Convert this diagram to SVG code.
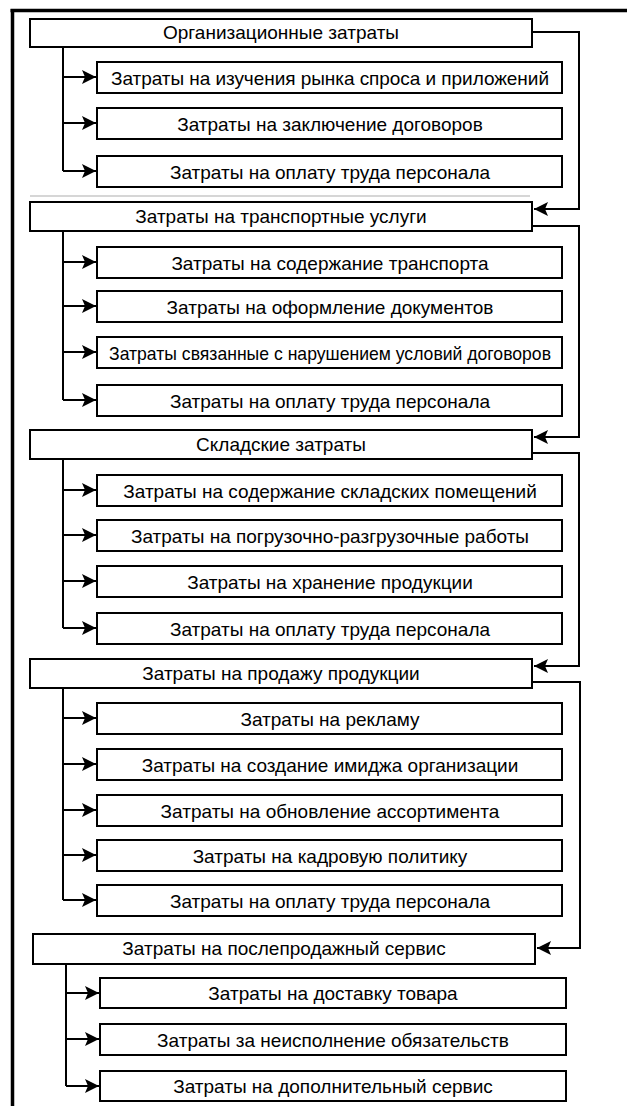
<svg xmlns="http://www.w3.org/2000/svg" width="627" height="1106" viewBox="0 0 627 1106">
<style>
.box{fill:#fff;stroke:#000;stroke-width:2}
.t{font-family:"Liberation Sans",Arial,sans-serif;font-size:19px;fill:#000;text-anchor:middle}
.ln{fill:none;stroke:#000;stroke-width:2;stroke-linejoin:miter}
</style>
<defs>
<marker id="ah" markerUnits="userSpaceOnUse" markerWidth="14" markerHeight="14" viewBox="0 0 14 14" refX="14" refY="7" orient="auto">
<path d="M0,0 L14,7 L0,14 L3,7 Z" fill="#000"/>
</marker>
</defs>
<rect width="627" height="1106" fill="#fff"/>
<g id="frame">
<line x1="10.5" y1="10.5" x2="627" y2="10.5" stroke="#000" stroke-width="3.5"/>
<line x1="12.5" y1="9" x2="12.5" y2="1106" stroke="#000" stroke-width="3.5"/>
<line x1="30" y1="196" x2="530" y2="196" stroke="#c8c8c8" stroke-width="1.5"/>
</g>
<g id="connectors">
<path class="ln" d="M532,32 H579 V209 H534" marker-end="url(#ah)"/>
<path class="ln" d="M532,226 H579 V437 H534" marker-end="url(#ah)"/>
<path class="ln" d="M532,453 H579 V666 H534" marker-end="url(#ah)"/>
<path class="ln" d="M532,682 H580 V948 H537" marker-end="url(#ah)"/>
<path class="ln" d="M63,47 V171"/>
<path class="ln" d="M63,77 H96" marker-end="url(#ah)"/>
<path class="ln" d="M63,123 H96" marker-end="url(#ah)"/>
<path class="ln" d="M63,171 H96" marker-end="url(#ah)"/>
<path class="ln" d="M63,231 V400"/>
<path class="ln" d="M63,262 H96" marker-end="url(#ah)"/>
<path class="ln" d="M63,306 H96" marker-end="url(#ah)"/>
<path class="ln" d="M63,352 H96" marker-end="url(#ah)"/>
<path class="ln" d="M63,400 H96" marker-end="url(#ah)"/>
<path class="ln" d="M63,459 V628"/>
<path class="ln" d="M63,490 H96" marker-end="url(#ah)"/>
<path class="ln" d="M63,535 H96" marker-end="url(#ah)"/>
<path class="ln" d="M63,581 H96" marker-end="url(#ah)"/>
<path class="ln" d="M63,628 H96" marker-end="url(#ah)"/>
<path class="ln" d="M63,688 V900"/>
<path class="ln" d="M63,718 H96" marker-end="url(#ah)"/>
<path class="ln" d="M63,764 H96" marker-end="url(#ah)"/>
<path class="ln" d="M63,810 H96" marker-end="url(#ah)"/>
<path class="ln" d="M63,855 H96" marker-end="url(#ah)"/>
<path class="ln" d="M63,900 H96" marker-end="url(#ah)"/>
<path class="ln" d="M66,964 V1086"/>
<path class="ln" d="M66,993 H99" marker-end="url(#ah)"/>
<path class="ln" d="M66,1039 H99" marker-end="url(#ah)"/>
<path class="ln" d="M66,1086 H99" marker-end="url(#ah)"/>
</g>
<g id="h1"><rect class="box" x="30" y="19" width="502" height="28"/><text class="t" x="281" y="39">Организационные затраты</text></g>
<g id="s1_1"><rect class="box" x="97" y="62" width="465" height="31"/><text class="t" x="330" y="85" textLength="438">Затраты на изучения рынка спроса и приложений</text></g>
<g id="s1_2"><rect class="box" x="97" y="108" width="465" height="31"/><text class="t" x="330" y="131">Затраты на заключение договоров</text></g>
<g id="s1_3"><rect class="box" x="97" y="156" width="465" height="31"/><text class="t" x="330" y="179">Затраты на оплату труда персонала</text></g>
<g id="h2"><rect class="box" x="30" y="202" width="502" height="29"/><text class="t" x="281" y="223">Затраты на транспортные услуги</text></g>
<g id="s2_1"><rect class="box" x="97" y="247" width="465" height="31"/><text class="t" x="330" y="270">Затраты на содержание транспорта</text></g>
<g id="s2_2"><rect class="box" x="97" y="291" width="465" height="31"/><text class="t" x="330" y="314">Затраты на оформление документов</text></g>
<g id="s2_3"><rect class="box" x="97" y="337" width="465" height="31"/><text class="t" x="330" y="360" textLength="442" lengthAdjust="spacingAndGlyphs">Затраты связанные с нарушением условий договоров</text></g>
<g id="s2_4"><rect class="box" x="97" y="385" width="465" height="31"/><text class="t" x="330" y="408">Затраты на оплату труда персонала</text></g>
<g id="h3"><rect class="box" x="30" y="430" width="502" height="29"/><text class="t" x="281" y="451">Складские затраты</text></g>
<g id="s3_1"><rect class="box" x="97" y="475" width="465" height="31"/><text class="t" x="330" y="498">Затраты на содержание складских помещений</text></g>
<g id="s3_2"><rect class="box" x="97" y="520" width="465" height="31"/><text class="t" x="330" y="543">Затраты на погрузочно-разгрузочные работы</text></g>
<g id="s3_3"><rect class="box" x="97" y="566" width="465" height="31"/><text class="t" x="330" y="589">Затраты на хранение продукции</text></g>
<g id="s3_4"><rect class="box" x="97" y="613" width="465" height="31"/><text class="t" x="330" y="636">Затраты на оплату труда персонала</text></g>
<g id="h4"><rect class="box" x="30" y="659" width="502" height="29"/><text class="t" x="281" y="680">Затраты на продажу продукции</text></g>
<g id="s4_1"><rect class="box" x="97" y="703" width="465" height="31"/><text class="t" x="330" y="726">Затраты на рекламу</text></g>
<g id="s4_2"><rect class="box" x="97" y="749" width="465" height="31"/><text class="t" x="330" y="772">Затраты на создание имиджа организации</text></g>
<g id="s4_3"><rect class="box" x="97" y="795" width="465" height="31"/><text class="t" x="330" y="818">Затраты на обновление ассортимента</text></g>
<g id="s4_4"><rect class="box" x="97" y="840" width="465" height="31"/><text class="t" x="330" y="863">Затраты на кадровую политику</text></g>
<g id="s4_5"><rect class="box" x="97" y="885" width="465" height="31"/><text class="t" x="330" y="908">Затраты на оплату труда персонала</text></g>
<g id="h5"><rect class="box" x="33" y="934" width="502" height="30"/><text class="t" x="284" y="955">Затраты на послепродажный сервис</text></g>
<g id="s5_1"><rect class="box" x="100" y="978" width="466" height="30"/><text class="t" x="333" y="1000">Затраты на доставку товара</text></g>
<g id="s5_2"><rect class="box" x="100" y="1024" width="466" height="31"/><text class="t" x="333" y="1047">Затраты за неисполнение обязательств</text></g>
<g id="s5_3"><rect class="box" x="100" y="1071" width="466" height="30"/><text class="t" x="333" y="1093">Затраты на дополнительный сервис</text></g>
</svg>
